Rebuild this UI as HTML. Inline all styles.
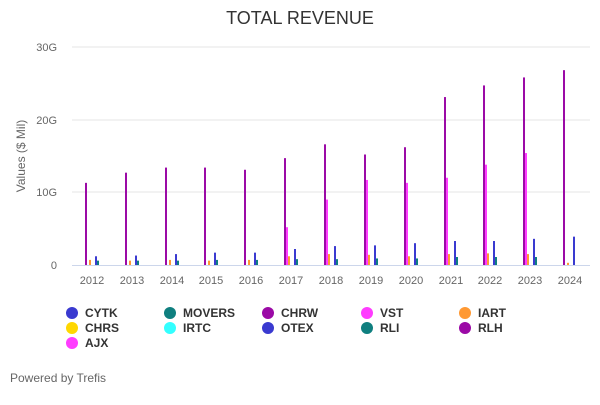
<!DOCTYPE html><html><head><style>body{margin:0;background:#fff;font-family:"Liberation Sans",sans-serif}</style></head><body>
<svg width="600" height="400" xmlns="http://www.w3.org/2000/svg" font-family="Liberation Sans, sans-serif">
<text x="300" y="24" text-anchor="middle" font-size="18" fill="#333">TOTAL REVENUE</text>
<g stroke="#e6e6e6"><line x1="72" x2="590" y1="47" y2="47"/><line x1="72" x2="590" y1="120" y2="120"/><line x1="72" x2="590" y1="192" y2="192"/></g>
<line x1="72" x2="590" y1="265.5" y2="265.5" stroke="#ccd6eb"/>
<g font-size="11" fill="#666" text-anchor="end"><text x="57" y="51">30G</text><text x="57" y="124">20G</text><text x="57" y="196">10G</text><text x="57" y="269">0</text></g>
<text transform="translate(25,156) rotate(-90)" text-anchor="middle" font-size="12" fill="#666">Values ($ Mil)</text>
<g font-size="11" fill="#666" text-anchor="middle">
<text x="92" y="284">2012</text><text x="132" y="284">2013</text><text x="172" y="284">2014</text><text x="211" y="284">2015</text><text x="251" y="284">2016</text><text x="291" y="284">2017</text><text x="331" y="284">2018</text><text x="371" y="284">2019</text><text x="411" y="284">2020</text><text x="451" y="284">2021</text><text x="490" y="284">2022</text><text x="530" y="284">2023</text><text x="570" y="284">2024</text></g>
<g id="bars"></g>
<g font-size="12" font-weight="bold" fill="#333">
<circle cx="72" cy="313" r="6" fill="#3a3ad0"/><text x="85" y="317">CYTK</text>
<circle cx="170" cy="313" r="6" fill="#0f7f7f"/><text x="183" y="317">MOVERS</text>
<circle cx="268" cy="313" r="6" fill="#9b0aa6"/><text x="281" y="317">CHRW</text>
<circle cx="367" cy="313" r="6" fill="#ff3cff"/><text x="380" y="317">VST</text>
<circle cx="465" cy="313" r="6" fill="#ff9933"/><text x="478" y="317">IART</text>
<circle cx="72" cy="328" r="6" fill="#ffd700"/><text x="85" y="332">CHRS</text>
<circle cx="170" cy="328" r="6" fill="#33ffff"/><text x="183" y="332">IRTC</text>
<circle cx="268" cy="328" r="6" fill="#3a3ad0"/><text x="281" y="332">OTEX</text>
<circle cx="367" cy="328" r="6" fill="#0f7f7f"/><text x="380" y="332">RLI</text>
<circle cx="465" cy="328" r="6" fill="#9b0aa6"/><text x="478" y="332">RLH</text>
<circle cx="72" cy="343" r="6" fill="#ff3cff"/><text x="85" y="347">AJX</text>
</g>
<text x="10" y="382" font-size="12" fill="#666">Powered by Trefis</text>
</svg>
<script>
var xs=[92,132,172,211,251,291,331,371,411,451,490,530,570];
var chrw=[11.3,12.7,13.4,13.4,13.1,14.7,16.6,15.2,16.2,23.1,24.7,25.8,26.8];
var vst=[0,0,0,0,0,5.2,9,11.7,11.3,12,13.8,15.4,0];
var iart=[0.7,0.6,0.7,0.6,0.7,1.2,1.5,1.4,1.2,1.5,1.6,1.5,0.3];
var otex=[1.2,1.3,1.5,1.7,1.7,2.2,2.6,2.7,3,3.3,3.3,3.6,3.9];
var rli=[0.6,0.6,0.6,0.7,0.7,0.8,0.8,0.9,0.9,1.1,1.1,1.1,0];
var s=7.27,b=265,h='';
function bar(x,v,c){if(v>0)h+='<rect x="'+x+'" y="'+(b-v*s)+'" width="2" height="'+(v*s)+'" fill="'+c+'"/>';}
for(var i=0;i<13;i++){var x=xs[i];bar(x-7,chrw[i],'#9b0aa6');bar(x-5,vst[i],'#ff3cff');bar(x-3,iart[i],'#ff9933');bar(x+3,otex[i],'#3a3ad0');bar(x+5,rli[i],'#0f7f7f');}
document.getElementById('bars').innerHTML=h;
</script>
</body></html>
